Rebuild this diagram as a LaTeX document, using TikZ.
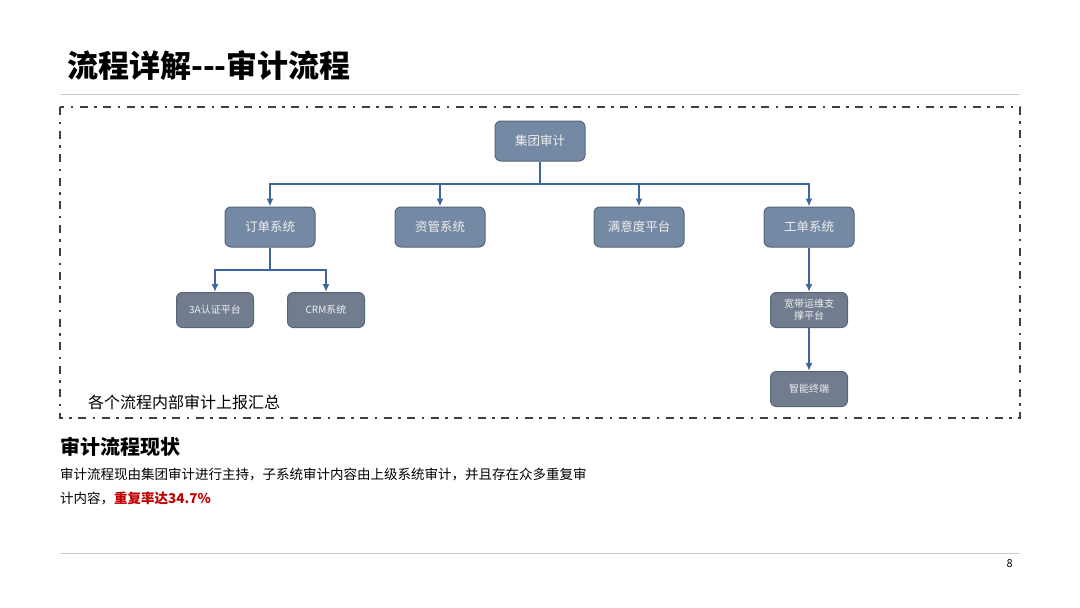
\documentclass[tikz,border=0pt]{standalone}
\usepackage{fontspec}
\setmainfont{Noto Sans CJK SC}
\usetikzlibrary{arrows.meta}
\definecolor{boxtop}{HTML}{7489A3}
\definecolor{boxsub}{HTML}{717D8E}
\definecolor{boxedge}{HTML}{56657A}
\definecolor{lnblue}{HTML}{3D679C}
\definecolor{rulegray}{HTML}{C8CCD0}
\definecolor{redtxt}{HTML}{C00000}
\tikzstyle{topnd}=[rectangle,rounded corners=6pt,draw=boxedge,fill=boxtop,line width=1pt,minimum width=90pt,minimum height=40pt,text=white!88!gray,font=\fontsize{12.5}{14}\selectfont]
\tikzstyle{subnd}=[rectangle,rounded corners=6pt,draw=boxedge,fill=boxsub,line width=1pt,minimum width=77pt,minimum height=35pt,text=white!88!gray,font=\fontsize{10}{12}\selectfont,align=center]
\tikzstyle{ln}=[draw=lnblue,line width=1.8pt,-{Latex[length=8pt,width=7pt]}]

\begin{document}
\begin{tikzpicture}[x=1pt,y=-1pt]
\useasboundingbox (0,0) rectangle (1080,608);
% title and rules
\node[anchor=base west,inner sep=0pt,font=\fontsize{31}{35}\selectfont\bfseries] (title) at (67,77) {流程详解-{}-{}-审计流程};
\draw[rulegray,line width=1pt] (60,94) -- (1020,94);
\draw[rulegray,line width=1pt] (60,553) -- (1020,553);
\node[anchor=base east,inner sep=0pt,font=\fontsize{11}{13}\selectfont] (pg) at (1013,567) {8};
% dash-dot frame
\draw[black!75,line width=2.2pt,dash pattern=on 8pt off 6.5pt on 2.5pt off 6.5pt] (60,107) rectangle (1020,418);
% tree
\node[topnd] (jt) at (540,141) {集团审计};
\node[topnd] (dd) at (270,227) {订单系统};
\node[topnd] (zg) at (440,227) {资管系统};
\node[topnd] (my) at (639,227) {满意度平台};
\node[topnd] (gd) at (809,227) {工单系统};
\node[subnd] (rz) at (215,310) {3A认证平台};
\node[subnd] (crm) at (326,310) {CRM系统};
\node[subnd] (kd) at (809,310) {宽带运维支\\撑平台};
\node[subnd] (zn) at (809,389) {智能终端};
\draw[ln] (jt.south) -- (jt.south |- 0,184) -| (dd.north);
\draw[ln] (jt.south) -- (jt.south |- 0,184) -| (zg.north);
\draw[ln] (jt.south) -- (jt.south |- 0,184) -| (my.north);
\draw[ln] (jt.south) -- (jt.south |- 0,184) -| (gd.north);
\draw[ln] (dd.south) -- (dd.south |- 0,270) -| (rz.north);
\draw[ln] (dd.south) -- (dd.south |- 0,270) -| (crm.north);
\draw[ln] (gd) -- (kd);
\draw[ln] (kd) -- (zn);
\node[anchor=west,inner sep=0pt,font=\fontsize{16}{18}\selectfont] (hz) at (88,402) {各个流程内部审计上报汇总};
% status text
\node[anchor=west,inner sep=0pt,font=\fontsize{20}{22}\selectfont\bfseries] (xz) at (60,447) {审计流程现状};
\node[anchor=west,inner sep=0pt,font=\fontsize{13.5}{15}\selectfont] (p1) at (60,474) {审计流程现由集团审计进行主持，子系统审计内容由上级系统审计，并且存在众多重复审};
\node[anchor=west,inner sep=0pt,font=\fontsize{13.5}{15}\selectfont] (p2) at (60,498) {计内容，{\color{redtxt}\bfseries 重复率达34.7\%}};
\end{tikzpicture}
\end{document}
